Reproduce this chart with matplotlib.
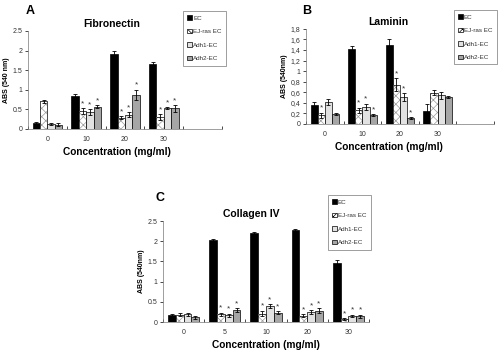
import numpy as np
import matplotlib.pyplot as plt
import matplotlib.ticker as mticker
from matplotlib.patches import Patch

plt.rcParams['font.family'] = ['Liberation Sans', 'DejaVu Sans']
plt.rcParams['hatch.linewidth'] = 0.5

series = ['EC', 'EJ-ras EC', 'Adh1-EC', 'Adh2-EC']

# Fibronectin
fn_conc = ['0', '10', '20', '30']
fn_vals = [[0.15, 0.83, 1.92, 1.66],
           [0.70, 0.45, 0.28, 0.30],
           [0.13, 0.43, 0.36, 0.53],
           [0.11, 0.57, 0.87, 0.52]]
fn_err = [[0.03, 0.07, 0.07, 0.06],
          [0.03, 0.07, 0.04, 0.07],
          [0.02, 0.08, 0.07, 0.03],
          [0.04, 0.04, 0.13, 0.08]]
fn_star = [[0, 0, 0, 0], [0, 1, 1, 1], [0, 1, 1, 1], [0, 1, 1, 1]]

# Laminin
ln_conc = ['0', '10', '20', '30']
ln_vals = [[0.36, 1.42, 1.50, 0.25],
           [0.16, 0.26, 0.74, 0.59],
           [0.41, 0.32, 0.51, 0.54],
           [0.18, 0.17, 0.11, 0.51]]
ln_err = [[0.06, 0.05, 0.11, 0.13],
          [0.05, 0.05, 0.12, 0.05],
          [0.06, 0.06, 0.07, 0.06],
          [0.02, 0.02, 0.02, 0.02]]
ln_star = [[0, 0, 0, 0], [1, 1, 1, 0], [0, 1, 1, 0], [0, 1, 1, 0]]

# Collagen IV
cl_conc = ['0', '5', '10', '20', '30']
cl_vals = [[0.18, 2.03, 2.20, 2.27, 1.46],
           [0.18, 0.19, 0.21, 0.16, 0.07],
           [0.19, 0.17, 0.39, 0.24, 0.15],
           [0.12, 0.30, 0.23, 0.28, 0.14]]
cl_err = [[0.02, 0.03, 0.04, 0.04, 0.07],
          [0.04, 0.04, 0.07, 0.03, 0.02],
          [0.04, 0.04, 0.05, 0.05, 0.03],
          [0.04, 0.05, 0.04, 0.06, 0.04]]
cl_star = [[0, 0, 0, 0, 0], [0, 1, 1, 1, 1], [0, 1, 1, 1, 1], [0, 1, 1, 1, 1]]

faces = ['black', 'white', '#e2e2e2', '#a6a6a6']
hatches = [None, 'xxxx', None, None]


def panel(rect, conc, vals, errs, stars, ymax, ystep, title, ylabel, letter,
          letter_xy, leg_xy, title_x, xlab_x, ncat=5, comma=False):
    ax = fig.add_axes(rect)
    x = np.arange(len(conc))
    w = 0.19
    handles = []
    for i in range(4):
        pos = x + (i - 1.5) * w
        if hatches[i]:
            # grey hatching under a black outline
            ax.bar(pos, vals[i], w, color=faces[i], edgecolor='#9a9a9a',
                   linewidth=0, hatch=hatches[i])
            ax.bar(pos, vals[i], w, fill=False, edgecolor='black',
                   linewidth=0.5)
        else:
            ax.bar(pos, vals[i], w, color=faces[i], edgecolor='black',
                   linewidth=0.5)
        handles.append(Patch(facecolor=faces[i], edgecolor='black',
                             linewidth=0.5, hatch=hatches[i]))
        ax.errorbar(pos, vals[i], yerr=errs[i], fmt='none', ecolor='black',
                    elinewidth=0.6, capsize=1.5, capthick=0.6)
        for j in range(len(conc)):
            if stars[i][j]:
                ax.text(pos[j], vals[i][j] + errs[i][j] + ymax * 0.01, '*',
                        ha='center', va='bottom', fontsize=6, color='#333333')
    ax.set_xlim(-0.5, ncat - 0.5)
    ax.set_ylim(0, ymax)
    ax.set_xticks(x)
    ax.set_xticklabels(conc, fontsize=5, color='#333333')
    ax.set_xticks(np.arange(ncat + 1) - 0.5, minor=True)
    ax.tick_params(axis='x', which='major', length=0, pad=5)
    ax.tick_params(axis='x', which='minor', length=2, width=0.5, direction='in')
    ax.set_yticks(np.arange(0, ymax + 1e-6, ystep))
    fmt = (lambda v, p: ('%g' % round(v, 2)).replace('.', ',')) if comma \
        else (lambda v, p: '%g' % round(v, 2))
    ax.yaxis.set_major_formatter(mticker.FuncFormatter(fmt))
    ax.tick_params(axis='y', labelsize=5, length=2, width=0.5,
                   labelcolor='#333333', pad=2)
    for s in ['top', 'right']:
        ax.spines[s].set_visible(False)
    for s in ['left', 'bottom']:
        ax.spines[s].set_linewidth(0.5)
        ax.spines[s].set_color('#777777')
    ax.set_title(title, fontsize=7.5, fontweight='bold', pad=3, x=title_x)
    ax.set_ylabel(ylabel, fontsize=5, fontweight='bold', labelpad=2)
    ax.set_xlabel('Concentration (mg/ml)', fontsize=7.3, fontweight='bold',
                  labelpad=3, x=xlab_x)
    fig.text(letter_xy[0], letter_xy[1], letter, fontsize=9, fontweight='bold',
             ha='left', va='top')
    leg = ax.legend(handles=handles, labels=series, loc='upper left',
                    bbox_to_anchor=leg_xy, bbox_transform=fig.transFigure,
                    fontsize=4.5, frameon=True, fancybox=False,
                    handlelength=0.7, handleheight=0.7, handletextpad=0.2,
                    labelspacing=1.3, borderpad=0.7, borderaxespad=0)
    leg.get_frame().set_edgecolor('#555555')
    leg.get_frame().set_linewidth(0.5)
    for t in leg.get_texts():
        t.set_color('#333333')
    return ax


fig = plt.figure(figsize=(5, 3.52), dpi=100)

panel([0.056, 0.634, 0.388, 0.278], fn_conc, fn_vals, fn_err, fn_star,
      2.5, 0.5, 'Fibronectin', 'ABS (540 nm)', 'A', (0.052, 0.985),
      (0.366, 0.969), 0.43, 0.46)
panel([0.612, 0.648, 0.376, 0.270], ln_conc, ln_vals, ln_err, ln_star,
      1.8, 0.2, 'Laminin', 'ABS (540nm)', 'B', (0.604, 0.985),
      (0.908, 0.972), 0.436, 0.44, comma=True)
panel([0.326, 0.085, 0.412, 0.287], cl_conc, cl_vals, cl_err, cl_star,
      2.5, 0.5, 'Collagen IV', 'ABS (540nm)', 'C', (0.31, 0.455),
      (0.656, 0.446), 0.43, 0.5)

fig.savefig('out.png', dpi=100)
